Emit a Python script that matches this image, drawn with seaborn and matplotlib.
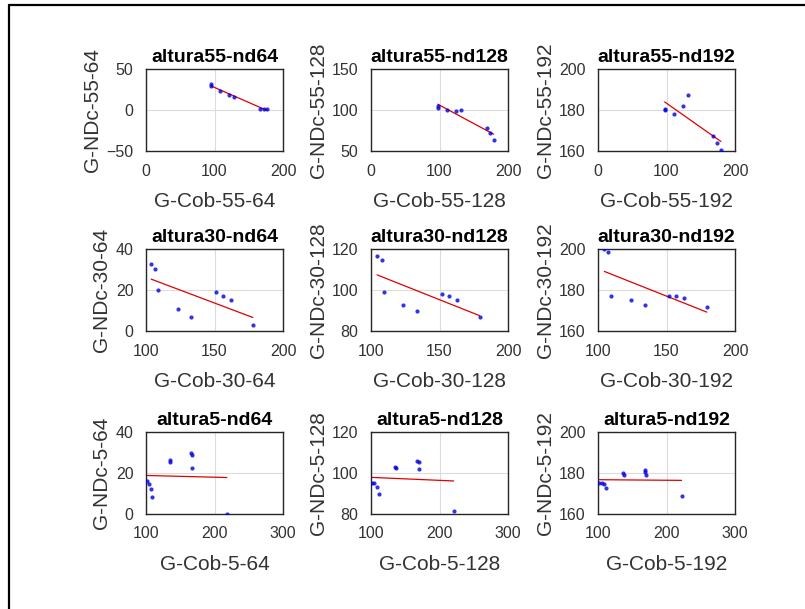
import matplotlib
matplotlib.use("Agg")
import matplotlib.pyplot as plt
from matplotlib.lines import Line2D
import seaborn as sns
import pandas as pd

sns.set_style("white")
plt.rcParams["font.family"] = ["Liberation Sans", "DejaVu Sans"]

# --- data: G-Cob (x) vs G-NDc (y) for each height / nd combination ---
cob_55_64 = [95.4, 95.4, 108.2, 121.3, 129.1, 167.0, 171.8, 176.7]
ndc_55_64 = [31.8, 28.9, 23.7, 18.8, 15.5, 1.5, 1.5, 1.5]
cob_55_128 = [97.5, 97.5, 111.0, 124.0, 131.0, 170.0, 174.0, 179.0]
ndc_55_128 = [104.5, 103.0, 100.0, 98.4, 100.4, 77.7, 72.0, 64.0]
cob_55_192 = [97.3, 97.3, 111.0, 124.3, 132.0, 168.6, 174.0, 179.4]
ndc_55_192 = [180.6, 179.8, 178.2, 182.1, 187.4, 167.1, 163.8, 160.7]

cob_30_64 = [103.8, 106.9, 109.1, 123.0, 133.0, 151.0, 156.0, 161.7, 178.0]
ndc_30_64 = [32.5, 30.4, 20.1, 10.9, 6.9, 19.2, 17.1, 15.0, 2.9]
cob_30_128 = [104.4, 107.8, 109.8, 123.7, 133.7, 151.9, 157.2, 163.1, 179.2]
ndc_30_128 = [116.4, 114.4, 98.9, 92.8, 89.8, 98.0, 97.0, 95.1, 86.7]
cob_30_192 = [104.6, 107.6, 109.5, 123.9, 134.0, 151.9, 156.8, 162.9, 179.4]
ndc_30_192 = [200.0, 198.6, 176.9, 174.9, 172.8, 176.9, 176.9, 176.0, 171.9]

cob_5_64 = [102.0, 104.5, 107.4, 109.4, 134.5, 135.5, 165.0, 167.5, 166.5, 218.0]
ndc_5_64 = [16.3, 14.8, 12.3, 8.3, 26.3, 25.2, 29.7, 29.0, 22.6, 0.0]
cob_5_128 = [101.9, 104.9, 108.8, 111.2, 135.2, 136.7, 167.0, 170.4, 170.0, 220.8]
ndc_5_128 = [95.3, 94.9, 93.0, 89.8, 102.8, 102.2, 106.0, 105.2, 101.8, 81.5]
cob_5_192 = [102.0, 105.9, 108.3, 111.8, 135.8, 137.3, 168.3, 169.8, 169.0, 221.9]
ndc_5_192 = [175.1, 174.9, 174.4, 172.8, 180.0, 179.1, 181.3, 179.2, 180.5, 168.9]

heights = ["55", "30", "5"]
nds = ["64", "128", "192"]
xdata = [[cob_55_64, cob_55_128, cob_55_192],
         [cob_30_64, cob_30_128, cob_30_192],
         [cob_5_64, cob_5_128, cob_5_192]]
ydata = [[ndc_55_64, ndc_55_128, ndc_55_192],
         [ndc_30_64, ndc_30_128, ndc_30_192],
         [ndc_5_64, ndc_5_128, ndc_5_192]]
xticks_by_row = [[0, 100, 200], [100, 150, 200], [100, 200, 300]]
yticks_by_cell = [[[-50, 0, 50], [50, 100, 150], [160, 180, 200]],
                  [[0, 20, 40], [80, 100, 120], [160, 180, 200]],
                  [[0, 20, 40], [80, 100, 120], [160, 180, 200]]]

W, H = 805, 609
fig = plt.figure(figsize=(W / 100, H / 100), dpi=100)
fig.patch.set_facecolor("white")

col_left = [146, 371, 598]
row_top = [69, 249, 432]
aw, ah = 137, 82

text_gray = "#333333"
for r in range(3):
    for c in range(3):
        ax = fig.add_axes([col_left[c] / W, 1 - (row_top[r] + ah) / H, aw / W, ah / H])
        df = pd.DataFrame({"x": xdata[r][c], "y": ydata[r][c]})
        sns.regplot(data=df, x="x", y="y", ax=ax, ci=None,
                    scatter_kws=dict(s=9, color="#0000e0", linewidths=0, zorder=3),
                    line_kws=dict(color="#e00000", lw=0.9, zorder=2))
        xt = xticks_by_row[r]
        yt = yticks_by_cell[r][c]
        ax.set_xlim(xt[0], xt[-1])
        ax.set_ylim(yt[0], yt[-1])
        ax.set_xticks(xt)
        ax.set_yticks(yt)
        ax.grid(True, color="#dcdcdc", lw=0.8)
        ax.set_axisbelow(True)
        for s in ax.spines.values():
            s.set_color("#262626")
            s.set_linewidth(1.0)
        ax.tick_params(direction="in", length=2, width=0.6, colors="#262626",
                       labelcolor=text_gray, labelsize=11.5, pad=9)
        h, n = heights[r], nds[c]
        ax.set_title(f"altura{h}-nd{n}", fontsize=14, fontweight="bold", pad=5, color="black")
        ax.set_xlabel(f"G-Cob-{h}-{n}", fontsize=15, color=text_gray, labelpad=10)
        ax.set_ylabel(f"G-NDc-{h}-{n}", fontsize=15, color=text_gray, labelpad=3)

# frame lines along the top and left edges of the figure
fig.add_artist(Line2D([8.5 / W, 1], [1 - 5 / H, 1 - 5 / H], color="black", lw=1.6,
                      transform=fig.transFigure))
fig.add_artist(Line2D([9 / W, 9 / W], [0, 1 - 5 / H], color="black", lw=1.6,
                      transform=fig.transFigure))

fig.savefig("out.png", dpi=100, facecolor="white")
